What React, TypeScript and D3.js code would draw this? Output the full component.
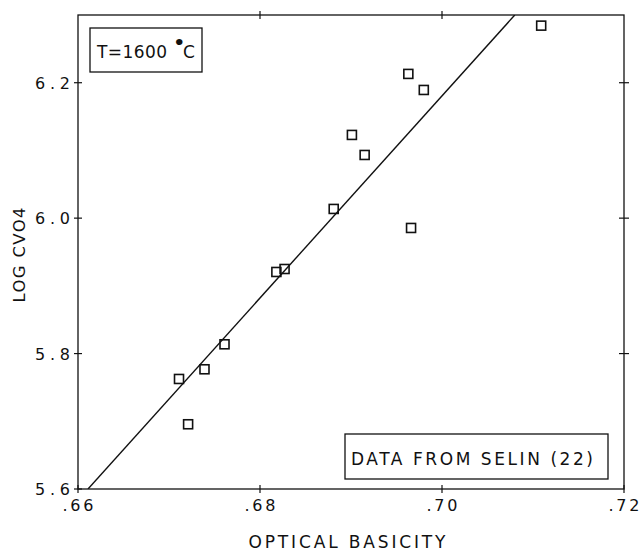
import React from "react";
import * as d3 from "d3";

// Data (optical basicity vs log C_VO4)
const basicity = [0.6711, 0.6721, 0.6739, 0.6761, 0.6818, 0.6827, 0.6881, 0.6901, 0.6915, 0.6966, 0.6963, 0.698, 0.7109];
const logCVO4 = [5.7625, 5.6956, 5.7768, 5.8137, 5.9205, 5.9249, 6.0136, 6.1229, 6.0933, 5.9855, 6.213, 6.1893, 6.2843];
const fitX = [0.6611, 0.708];
const fitY = [5.6, 6.3];
const xTicks = [0.66, 0.68, 0.7, 0.72];
const xTickLabels = [".66", ".68", ".70", ".72"];
const yTicks = [5.6, 5.8, 6.0, 6.2];
const yTickLabels = ["5.6", "5.8", "6.0", "6.2"];
const xTitle = "OPTICAL BASICITY";
const yTitle = "LOG CVO4";
const noteText = "DATA FROM SELIN (22)";

const W = 643, H = 554;
const FONT = "'DejaVu Sans', 'Liberation Sans', sans-serif";
const INK = "#111";

export default function App() {
  const x = d3.scaleLinear().domain([0.66, 0.72]).range([78, 624]);
  const y = d3.scaleLinear().domain([5.6, 6.3]).range([489, 15]);
  const [x0, x1] = x.range();
  const [y0, y1] = y.range();
  const tk = 4;
  const line = d3.line<number>().x((_, i) => x(fitX[i])).y((d) => y(d));
  const pts = basicity.map((b, i) => [b, logCVO4[i]]);
  const s = 9;

  return (
    <div style={{ position: "fixed", left: 0, top: 0 }}>
      <svg width={W} height={H} style={{ display: "block", background: "#fff" }}>
        <defs>
          <clipPath id="plot">
            <rect x={x0} y={y1} width={x1 - x0} height={y0 - y1} />
          </clipPath>
        </defs>
        {/* frame */}
        <rect x={x0} y={y1} width={x1 - x0} height={y0 - y1} fill="none" stroke={INK} strokeWidth={1.3} />
        {/* bottom ticks */}
        {xTicks.map((t, i) => (
          <g key={"bx" + i}>
            <line x1={x(t)} x2={x(t)} y1={y0 - tk} y2={y0 + tk} stroke={INK} strokeWidth={1.2} />
            <text x={x(t)} y={511} textAnchor="middle" fontFamily={FONT} fontSize={16} fill={INK}
              textLength={31} lengthAdjust="spacing">{xTickLabels[i]}</text>
          </g>
        ))}
        {/* top ticks */}
        {xTicks.slice(1, 3).map((t, i) => (
          <line key={"tx" + i} x1={x(t)} x2={x(t)} y1={y1 - tk} y2={y1 + tk} stroke={INK} strokeWidth={1.2} />
        ))}
        {/* left ticks */}
        {yTicks.map((t, i) => (
          <g key={"ly" + i}>
            <line x1={x0 - tk} x2={x0 + tk} y1={y(t)} y2={y(t)} stroke={INK} strokeWidth={1.2} />
            <text x={70} y={y(t) + 6} textAnchor="end" fontFamily={FONT} fontSize={16} fill={INK}
              textLength={35} lengthAdjust="spacing">{yTickLabels[i]}</text>
          </g>
        ))}
        {/* right ticks */}
        {yTicks.slice(1).map((t, i) => (
          <line key={"ry" + i} x1={x1 - 5} x2={x1 + 5} y1={y(t)} y2={y(t)} stroke={INK} strokeWidth={1.2} />
        ))}
        {/* axis titles */}
        <text x={347} y={548} textAnchor="middle" fontFamily={FONT} fontSize={17} fill={INK}
          textLength={197} lengthAdjust="spacing">{xTitle}</text>
        <text transform={`translate(25,255) rotate(-90)`} textAnchor="middle" fontFamily={FONT} fontSize={16.5} fill={INK}
          textLength={95} lengthAdjust="spacing">{yTitle}</text>
        {/* fit line */}
        <path d={line(fitY) || ""} fill="none" stroke={INK} strokeWidth={1.4} clipPath="url(#plot)" />
        {/* markers */}
        {pts.map(([a, b], i) => (
          <rect key={"p" + i} x={x(a) - s / 2} y={y(b) - s / 2} width={s} height={s} fill="none" stroke={INK} strokeWidth={1.6} />
        ))}
        {/* temperature box */}
        <rect x={90} y={28} width={112} height={44} fill="none" stroke={INK} strokeWidth={1.3} />
        <text x={97} y={58} fontFamily={FONT} fontSize={17} fill={INK}>
          <tspan textLength={70} lengthAdjust="spacing">T=1600</tspan>
          <tspan x={176} y={49} fontSize={13} fontWeight="bold" stroke={INK} strokeWidth={2.2}>°</tspan>
          <tspan x={183} y={58}>C</tspan>
        </text>
        {/* source note */}
        <rect x={345} y={434} width={263} height={45} fill="none" stroke={INK} strokeWidth={1.3} />
        <text x={351} y={465} fontFamily={FONT} fontSize={17} fill={INK}
          textLength={242} lengthAdjust="spacing">{noteText}</text>
      </svg>
    </div>
  );
}
